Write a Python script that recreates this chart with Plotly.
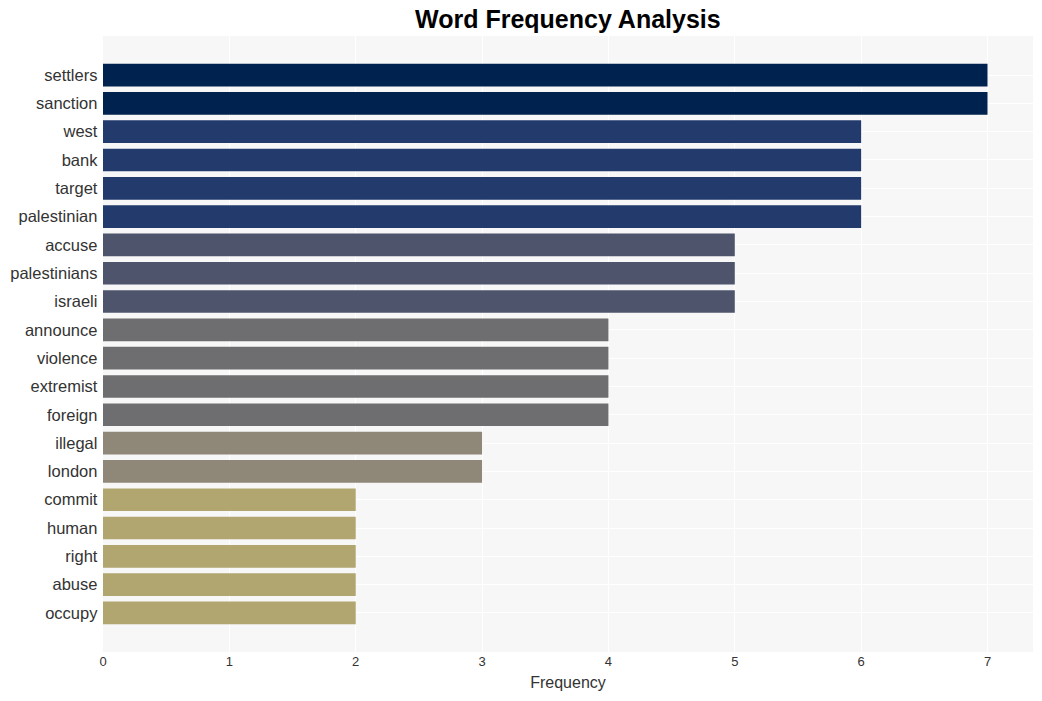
import plotly.graph_objects as go

words = ["settlers", "sanction", "west", "bank", "target", "palestinian", "accuse",
         "palestinians", "israeli", "announce", "violence", "extremist", "foreign",
         "illegal", "london", "commit", "human", "right", "abuse", "occupy"]
counts = [7, 7, 6, 6, 6, 6, 5, 5, 5, 4, 4, 4, 4, 3, 3, 2, 2, 2, 2, 2]
color_map = {7: "#00224e", 6: "#233a6d", 5: "#4e546c", 4: "#6e6e71", 3: "#8f8778", 2: "#b1a570"}
colors = [color_map[c] for c in counts]

fig = go.Figure(go.Bar(
    x=counts, y=words, orientation="h",
    marker=dict(color=colors, line=dict(width=0)),
))
fig.update_layout(
    width=1042, height=701,
    margin=dict(l=103, r=9, t=36, b=49),
    paper_bgcolor="white", plot_bgcolor="#f7f7f7",
    title=dict(text="<b>Word Frequency Analysis</b>", x=0.545, xanchor="center", y=0.972, yanchor="middle",
               font=dict(family="Liberation Sans, Arial", size=25, color="black")),
    font=dict(family="Liberation Sans, Arial", color="#333"),
    bargap=0.2,
    showlegend=False,
)
fig.update_xaxes(range=[0, 7.36], dtick=1, showgrid=True, gridcolor="white", gridwidth=1,
                 zeroline=False, tickfont=dict(size=13, color="#333"),
                 title=dict(text="Frequency", font=dict(size=16, color="#333"), standoff=8))
fig.update_yaxes(autorange=False, range=[19 + 1.38, -1.38], categoryorder="array", categoryarray=words,
                 showgrid=True, gridcolor="white", tickfont=dict(size=16.5, color="#333"), ticksuffix=" ")
fig.write_html("out.html")
